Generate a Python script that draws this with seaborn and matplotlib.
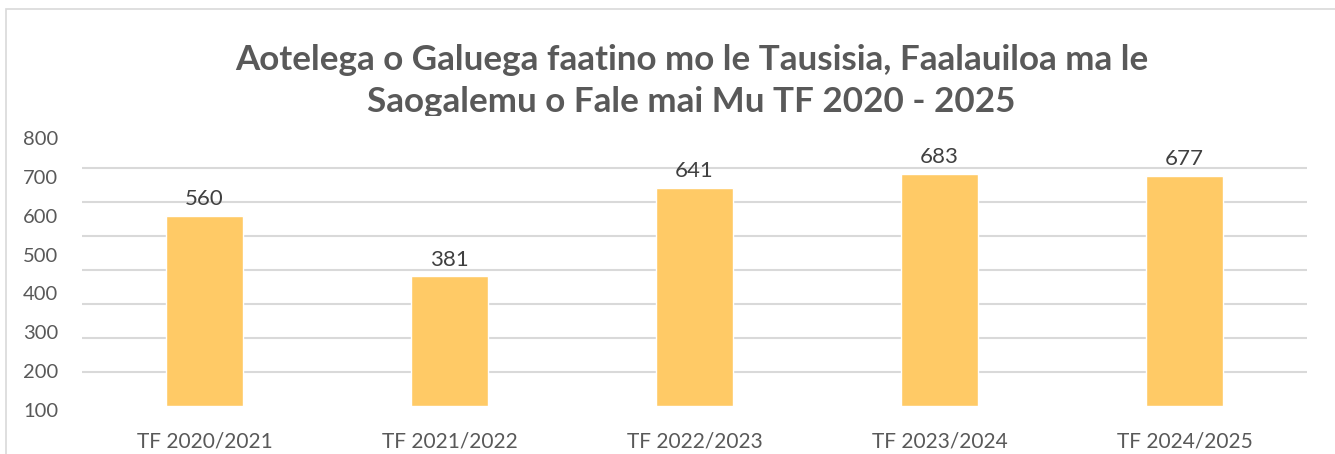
import numpy as np
import pandas as pd
import seaborn as sns
import matplotlib.pyplot as plt
from matplotlib.patches import Rectangle
from matplotlib.transforms import ScaledTranslation

# data
years = ['TF 2020/2021', 'TF 2021/2022', 'TF 2022/2023', 'TF 2023/2024', 'TF 2024/2025']
counts = [560, 381, 641, 683, 677]
ytick_labels = ['100', '200', '300', '400', '500', '600', '700', '800']
title = ('Aotelega o Galuega faatino mo le Tausisia, Faalauiloa ma le\n'
         'Saogalemu o Fale mai Mu TF 2020 - 2025')

df = pd.DataFrame({'Year': years, 'Count': counts})

sns.set_style('white')
plt.rcParams['font.family'] = ['Lato', 'DejaVu Sans']
text_col = '#595959'
grid_col = '#D9D9D9'

fig = plt.figure(figsize=(13.35, 4.54), dpi=100)
ax = fig.add_axes([82 / 1335, 48 / 454, 1225 / 1335, 272 / 454])

sns.barplot(data=df, x='Year', y='Count', color='#FFCA66', saturation=1,
            width=0.314, ax=ax, zorder=3)
for c in ax.containers:
    ax.bar_label(c, fmt='%d', padding=5, fontsize=16, color='#404040')

ax.set_ylim(0, 800)
ax.set_yticks(np.linspace(0, 800, len(ytick_labels)))
ax.set_yticklabels(ytick_labels, fontsize=14.5, color=text_col)
ax.set_yticks(np.arange(0, 801, 100), minor=True)
ax.grid(False)
ax.grid(axis='y', which='minor', color=grid_col, lw=1.5, zorder=0)
ax.tick_params(axis='y', which='both', length=0, pad=17)
ax.tick_params(axis='x', length=0, pad=18, labelsize=15, labelcolor=text_col)
# the value labels sit a little low against the gridlines in the reference
shift = ScaledTranslation(0, -4 / 100, fig.dpi_scale_trans)
for lab in ax.get_yticklabels():
    lab.set_transform(lab.get_transform() + shift)
ax.set_xlabel('')
ax.set_ylabel('')
for s in ax.spines.values():
    s.set_visible(False)

# outer chart frame
fig.patches.append(Rectangle((6 / 1335, -0.1), 1.1, (454 - 9) / 454 + 0.1,
                             transform=fig.transFigure, fill=False,
                             edgecolor=grid_col, lw=1.2, zorder=1))

fig.text(0.518, 1 - 44 / 454, title, ha='center', va='top', fontsize=25.2,
         fontweight='bold', color=text_col, linespacing=1.4, zorder=3)
# title is cut off just below its second line in the reference
fig.patches.append(Rectangle((0.1, (454 - 131) / 454), 0.85, 15 / 454,
                             transform=fig.transFigure, facecolor='white',
                             edgecolor='none', zorder=10))

fig.savefig('out.png', dpi=100)
